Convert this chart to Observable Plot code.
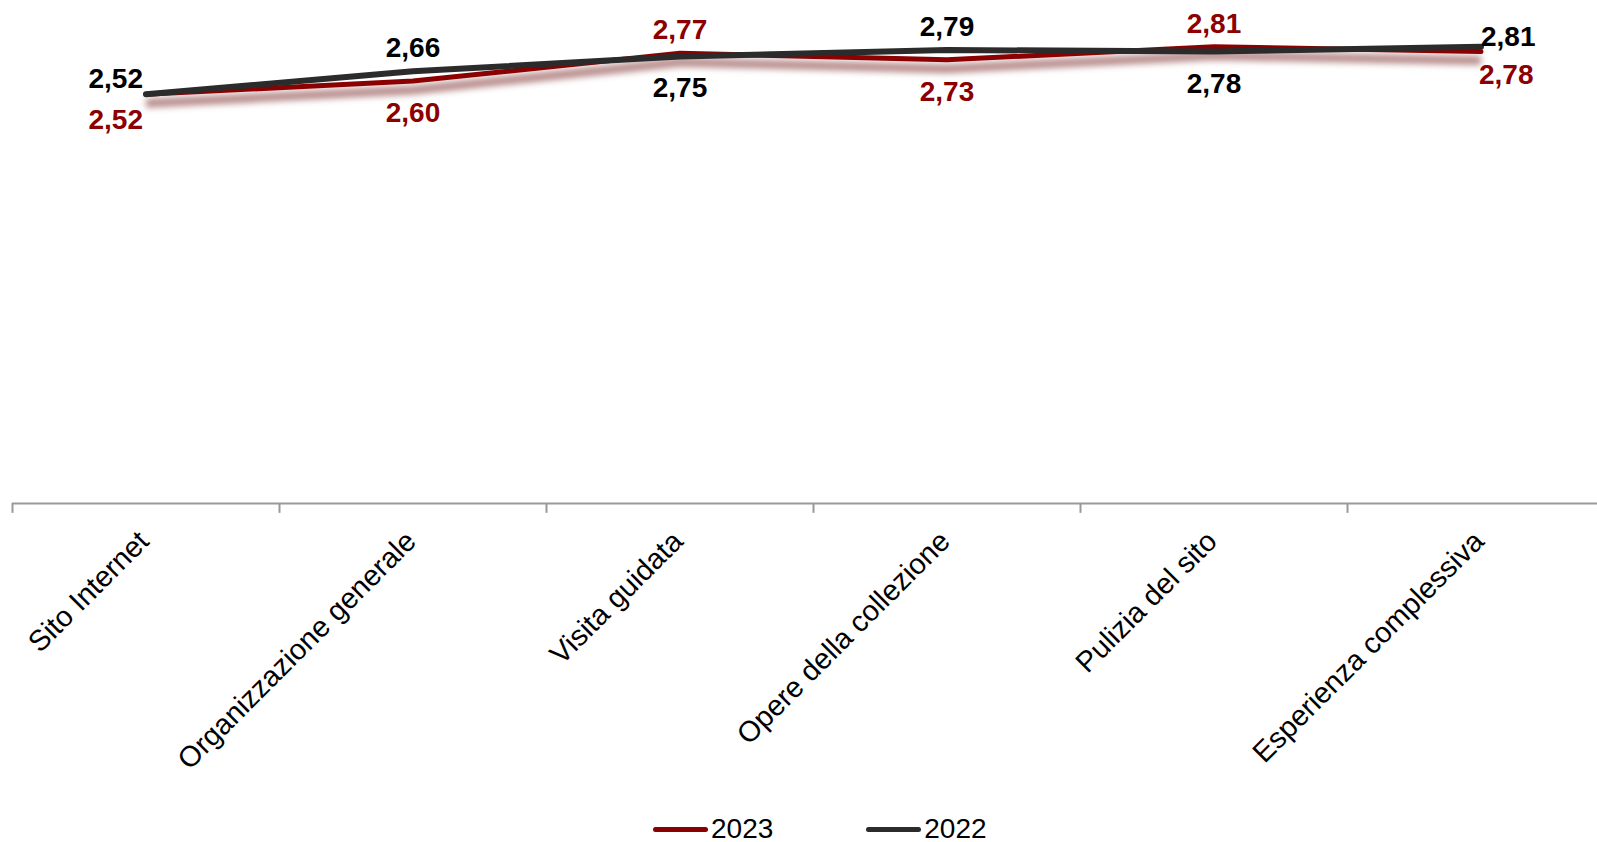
<!DOCTYPE html>
<html>
<head>
<meta charset="utf-8">
<script src="https://cdn.jsdelivr.net/npm/d3@7"></script>
<script src="https://cdn.jsdelivr.net/npm/@observablehq/plot@0.6"></script>
<style>
  html, body { margin: 0; padding: 0; background: #fff; }
  body { width: 1597px; height: 842px; position: relative; overflow: hidden; font-family: "Liberation Sans", Arial, sans-serif; }
  #legend { position: absolute; left: 653px; top: 819px; display: flex; align-items: center; font-size: 28px; line-height: 20px; height: 20px; color: #000; }
  .item { display: flex; align-items: center; height: 20px; }
  .sw { width: 55px; height: 5px; border-radius: 3px; margin-right: 3px; }
</style>
</head>
<body>
<div id="chart"></div>
<div id="legend"></div>
<script>
const categories = ["Sito Internet", "Organizzazione generale", "Visita guidata", "Opere della collezione", "Pulizia del sito", "Esperienza complessiva"];
const values2023 = [2.52, 2.60, 2.77, 2.73, 2.81, 2.78];
const values2022 = [2.52, 2.66, 2.75, 2.79, 2.78, 2.81];
const seriesNames = ["2023", "2022"];
const seriesColors = ["#8b0000", "#2b2b2b"];
const labelColors = ["#8b0000", "#000000"];

const fmt = v => d3.format(".2f")(v).replace(".", ",");

const rows = [];
categories.forEach((c, i) => {
  rows.push({cat: c, i, series: "2023", value: values2023[i], other: values2022[i]});
  rows.push({cat: c, i, series: "2022", value: values2022[i], other: values2023[i]});
});
rows.forEach(r => {
  r.above = r.value > r.other || (r.value === r.other && r.series === "2022");
});
const rows23 = rows.filter(r => r.series === "2023");
const rows22 = rows.filter(r => r.series === "2022");
const last = categories.length - 1;

const xRange = [12, 1614];
const half = (xRange[1] - xRange[0]) / categories.length / 2;

function labelMarks(subset, color) {
  const groups = [
    {f: r => r.i === 0 && r.above, anchor: "end", dx: -3, dy: -15},
    {f: r => r.i === 0 && !r.above, anchor: "end", dx: -3, dy: 26},
    {f: r => r.i === last && r.above, anchor: "start", dx: 0, dy: -10},
    {f: r => r.i === last && !r.above, anchor: "start", dx: -2, dy: 23},
    {f: r => r.i > 0 && r.i < last && r.above, anchor: "middle", dx: 0, dy: -23},
    {f: r => r.i > 0 && r.i < last && !r.above, anchor: "middle", dx: 0, dy: 32}
  ];
  return groups.map(g => Plot.text(subset.filter(g.f), {
    x: "cat", y: "value", text: d => fmt(d.value), fill: color,
    textAnchor: g.anchor, dx: g.dx, dy: g.dy,
    fontSize: 28, fontWeight: "bold", lineAnchor: "middle"
  }));
}

const plot = Plot.plot({
  width: 1597,
  height: 810,
  marginLeft: 12, marginRight: 0, marginTop: 0, marginBottom: 0,
  style: {fontFamily: "'Liberation Sans', Arial, sans-serif", background: "#fff", overflow: "visible"},
  x: {type: "band", domain: categories, range: xRange, padding: 0, axis: null},
  y: {domain: [0, 3], range: [507, 15], axis: null},
  marks: [
    Plot.ruleY([0], {stroke: "#999", strokeWidth: 2, dy: -4}),
    Plot.ruleX(categories, {x: d => d, y1: () => 0, y2: () => -0.06, dx: -half, dy: -4, stroke: "#999", strokeWidth: 2}),
    Plot.text(categories, {x: d => d, y: () => 0, text: d => d, rotate: -45, textAnchor: "end", lineAnchor: "middle", dx: -2, dy: 29, fontSize: 29, fill: "#000"}),
    // shadow
    Plot.line(rows23, {x: "cat", y: "value", stroke: "rgba(125,45,45,0.55)", strokeWidth: 9, dy: 9, strokeLinejoin: "round", strokeLinecap: "butt"}),
    Plot.line(rows23, {x: "cat", y: "value", stroke: seriesColors[0], strokeWidth: 5, strokeLinejoin: "round", strokeLinecap: "round"}),
    Plot.line(rows22, {x: "cat", y: "value", stroke: seriesColors[1], strokeWidth: 6, strokeLinejoin: "round", strokeLinecap: "round"}),
    ...labelMarks(rows23, labelColors[0]),
    ...labelMarks(rows22, labelColors[1])
  ]
});
document.getElementById("chart").appendChild(plot);
// blur the shadow line
const lines = plot.querySelectorAll('g[aria-label="line"]');
if (lines.length) lines[0].style.filter = "blur(3px)";

const legend = document.getElementById("legend");
seriesNames.forEach((s, k) => {
  const it = document.createElement("div");
  it.className = "item";
  if (k > 0) it.style.marginLeft = "93px";
  const sw = document.createElement("span");
  sw.className = "sw";
  sw.style.background = seriesColors[k];
  const t = document.createElement("span");
  t.textContent = s;
  it.appendChild(sw); it.appendChild(t);
  legend.appendChild(it);
});
</script>
</body>
</html>
